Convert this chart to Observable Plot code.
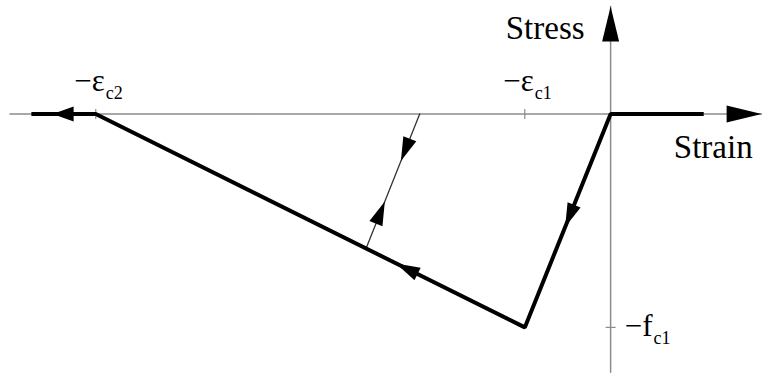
<!DOCTYPE html>
<html>
<head>
<meta charset="utf-8">
<script src="https://cdn.jsdelivr.net/npm/d3@7"></script>
<script src="https://cdn.jsdelivr.net/npm/@observablehq/plot@0.6"></script>
<style>
  body { margin: 0; background: #fff; }
  svg { display: block; }
  svg text { font-family: "Liberation Serif", "Times New Roman", Times, serif; }
</style>
</head>
<body>
<div id="chart"></div>
<script>
const W = 762, H = 376;

// Concrete law in compression (strain in ‰, stress in MPa, compression negative)
const epsC1 = 2.0;     // strain at peak stress
const epsC2 = 12.0;    // ultimate strain
const fC1 = 30;        // peak compressive stress

// Envelope: zero-stress tension branch, linear loading, linear softening, residual
const envelopeStrain = [2.17, 0, -epsC1, -epsC2, -13.5];
const envelopeStress = [0, 0, -fC1, 0, 0];

// Unloading / reloading path from the softening branch
const cycleStrain = [-5.7, -4.45];
const cycleStress = [-18.9, 0];

// Axis extents (arrow tips) and scale domains
const strainAxis = [-14.0, 3.52];
const stressAxis = [-36.3, 15.1];
const strainDomain = [-14.22, 3.54];
const stressDomain = [-36.9, 15.95];

// Direction arrows: segment, position of the tip along it, head size
const arrowSegs = [
  {from: [strainAxis[0], 0], to: [strainAxis[1], 0], t: 1, size: "axis"},
  {from: [0, stressAxis[0]], to: [0, stressAxis[1]], t: 1, size: "axis"},
  {from: [-epsC2, 0], to: [-13.5, 0], t: 0.67, size: "wide"},
  {from: [0, 0], to: [-epsC1, -fC1], t: 0.53, size: "path"},
  {from: [-epsC1, -fC1], to: [-epsC2, 0], t: 0.30, size: "path"},
  {from: [cycleStrain[1], cycleStress[1]], to: [cycleStrain[0], cycleStress[0]], t: 0.35, size: "path"},
  {from: [cycleStrain[0], cycleStress[0]], to: [cycleStrain[1], cycleStress[1]], t: 0.35, size: "path"}
];

// Labelled ticks
const strainTicks = [
  {strain: -epsC1, main: "−ε", sub: "c1"},
  {strain: -epsC2, main: "−ε", sub: "c2"}
];
const stressTicks = [
  {stress: -fC1, main: "−f", sub: "c1"}
];

const envelope = envelopeStrain.map((s, i) => ({strain: s, stress: envelopeStress[i]}));
const cycle = cycleStrain.map((s, i) => ({strain: s, stress: cycleStress[i]}));
const axisH = strainAxis.map(s => ({strain: s, stress: 0}));
const axisV = stressAxis.map(s => ({strain: 0, stress: s}));

const xs = Plot.scale({x: {domain: strainDomain, range: [0, W]}});
const ys = Plot.scale({y: {domain: stressDomain, range: [H, 0]}});

// Filled arrowhead symbol, tip at the anchor, pointing up before rotation
function headSymbol(len, wid) {
  return {
    draw(ctx) {
      ctx.moveTo(0, 0);
      ctx.lineTo(wid / 2, len);
      ctx.lineTo(-wid / 2, len);
      ctx.closePath();
    }
  };
}
const heads = {
  axis: headSymbol(35, 17),
  wide: headSymbol(21, 15),
  path: headSymbol(24, 14)
};

const arrows = arrowSegs.map(a => {
  const strain = a.from[0] + (a.to[0] - a.from[0]) * a.t;
  const stress = a.from[1] + (a.to[1] - a.from[1]) * a.t;
  const dx = xs.apply(a.to[0]) - xs.apply(a.from[0]);
  const dy = ys.apply(a.to[1]) - ys.apply(a.from[1]);
  const angle = Math.atan2(dx, -dy) * 180 / Math.PI;
  return {strain, stress, angle, size: a.size};
});

const tickV = {draw(ctx) { ctx.moveTo(0, -5); ctx.lineTo(0, 5); }};
const tickH = {draw(ctx) { ctx.moveTo(-5, 0); ctx.lineTo(5, 0); }};

const axisColor = "#8c8c8c";
const font = "Liberation Serif";

const headMarks = Object.keys(heads).map(k =>
  Plot.dot(arrows.filter(d => d.size === k), {
    x: "strain", y: "stress", rotate: "angle",
    symbol: heads[k], fill: "black", stroke: "none"
  })
);

const chart = Plot.plot({
  width: W,
  height: H,
  margin: 0,
  x: {domain: strainDomain, range: [0, W], axis: null},
  y: {domain: stressDomain, range: [H, 0], axis: null},
  style: {background: "white", fontFamily: font},
  marks: [
    Plot.line(axisH, {x: "strain", y: "stress", stroke: axisColor, strokeWidth: 1.5}),
    Plot.line(axisV, {x: "strain", y: "stress", stroke: axisColor, strokeWidth: 1.5}),
    Plot.dot(strainTicks, {x: "strain", y: () => 0, symbol: tickV, stroke: axisColor, fill: "none", strokeWidth: 1.2}),
    Plot.dot(stressTicks, {x: () => 0, y: "stress", symbol: tickH, stroke: axisColor, fill: "none", strokeWidth: 1.2}),
    Plot.line(cycle, {x: "strain", y: "stress", stroke: "#333", strokeWidth: 1.3}),
    Plot.line(envelope, {x: "strain", y: "stress", stroke: "black", strokeWidth: 4, strokeLinejoin: "miter", strokeLinecap: "butt"}),
    ...headMarks,
    // strain tick labels with subscripts
    Plot.text(strainTicks, {x: "strain", y: () => 0, text: "main", textAnchor: "end", lineAnchor: "bottom",
      dx: 9, dy: -23, fontSize: 31, fontFamily: font, fill: "black"}),
    Plot.text(strainTicks, {x: "strain", y: () => 0, text: "sub", textAnchor: "start", lineAnchor: "bottom",
      dx: 10, dy: -15, fontSize: 18, fontFamily: font, fill: "black"}),
    // stress tick label
    Plot.text(stressTicks, {x: () => 0, y: "stress", text: "main", textAnchor: "end", lineAnchor: "bottom",
      dx: 42, dy: 9, fontSize: 31, fontFamily: font, fill: "black"}),
    Plot.text(stressTicks, {x: () => 0, y: "stress", text: "sub", textAnchor: "start", lineAnchor: "bottom",
      dx: 43, dy: 17, fontSize: 18, fontFamily: font, fill: "black"}),
    // axis titles
    Plot.text(["Stress"], {x: () => 0, y: () => stressAxis[1], text: d => d, textAnchor: "end", lineAnchor: "bottom",
      dx: -26, dy: 32, fontSize: 33, fontFamily: font, fill: "black"}),
    Plot.text(["Strain"], {x: () => strainAxis[1], y: () => 0, text: d => d, textAnchor: "end", lineAnchor: "bottom",
      dx: -9, dy: 44.5, fontSize: 33, fontFamily: font, fill: "black"})
  ]
});

document.getElementById("chart").appendChild(chart);
</script>
</body>
</html>
